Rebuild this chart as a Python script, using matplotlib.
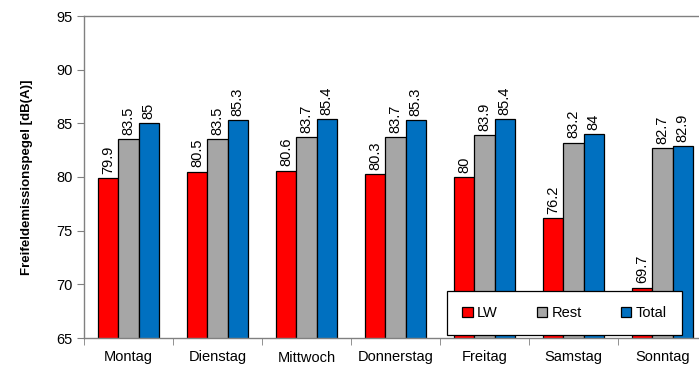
import numpy as np
import matplotlib.pyplot as plt

days = ["Montag", "Dienstag", "Mittwoch", "Donnerstag", "Freitag", "Samstag", "Sonntag"]
lw = [79.9, 80.5, 80.6, 80.3, 80.0, 76.2, 69.7]
rest = [83.5, 83.5, 83.7, 83.7, 83.9, 83.2, 82.7]
total = [85.0, 85.3, 85.4, 85.3, 85.4, 84.0, 82.9]

series = [("LW", lw, "#FF0000"), ("Rest", rest, "#A6A6A6"), ("Total", total, "#0070C0")]

plt.rcParams["font.family"] = ["Liberation Sans", "DejaVu Sans"]
plt.rcParams["font.size"] = 10.5

fig = plt.figure(figsize=(6.99, 3.70), dpi=100)
ax = fig.add_axes([84 / 699, 1 - 338 / 370, 623 / 699, 322 / 370])

x = np.arange(len(days))
w = 0.225
for i, (name, vals, col) in enumerate(series):
    bars = ax.bar(x + (i - 1) * w, vals, width=w, color=col, edgecolor="black",
                  linewidth=0.9, label=name, zorder=2)
    for b, v in zip(bars, vals):
        ax.annotate(f"{v:g}", (b.get_x() + b.get_width() / 2, v), xytext=(0, 3),
                    textcoords="offset points", rotation=90, ha="center", va="bottom",
                    fontsize=10.5)

ax.set_ylim(65, 95)
ax.set_yticks(np.arange(65, 96, 5))
ax.set_xlim(-0.5, len(days) - 0.5)
ax.set_xticks(x)
ax.set_xticklabels(days)
ax.set_xticks(np.arange(-0.5, len(days)), minor=True)
ax.tick_params(axis="x", which="major", length=0, pad=9)
ax.tick_params(axis="x", which="minor", length=5, color="#808080")
ax.tick_params(axis="y", length=5, color="#808080", pad=3)

for s in ["left", "top", "bottom", "right"]:
    ax.spines[s].set_color("#808080")
    ax.spines[s].set_linewidth(1.0)

ax.set_ylabel("Freifeldemissionspegel [dB(A)]", fontweight="bold", fontsize=9.5, labelpad=17)

# legend box sits over the lower right bars
leg = ax.legend(loc="upper left", ncol=3, mode="expand",
                bbox_to_anchor=(447 / 699, 1 - 291 / 370, 235 / 699, 0.001),
                bbox_transform=fig.transFigure, borderaxespad=0, frameon=True,
                fancybox=False, edgecolor="black", framealpha=1, handlelength=0.7,
                handleheight=0.7, handletextpad=0.3, borderpad=1.05, fontsize=10.5)
leg.get_frame().set_linewidth(0.9)
leg.set_zorder(5)

fig.savefig("out.png", dpi=100)
